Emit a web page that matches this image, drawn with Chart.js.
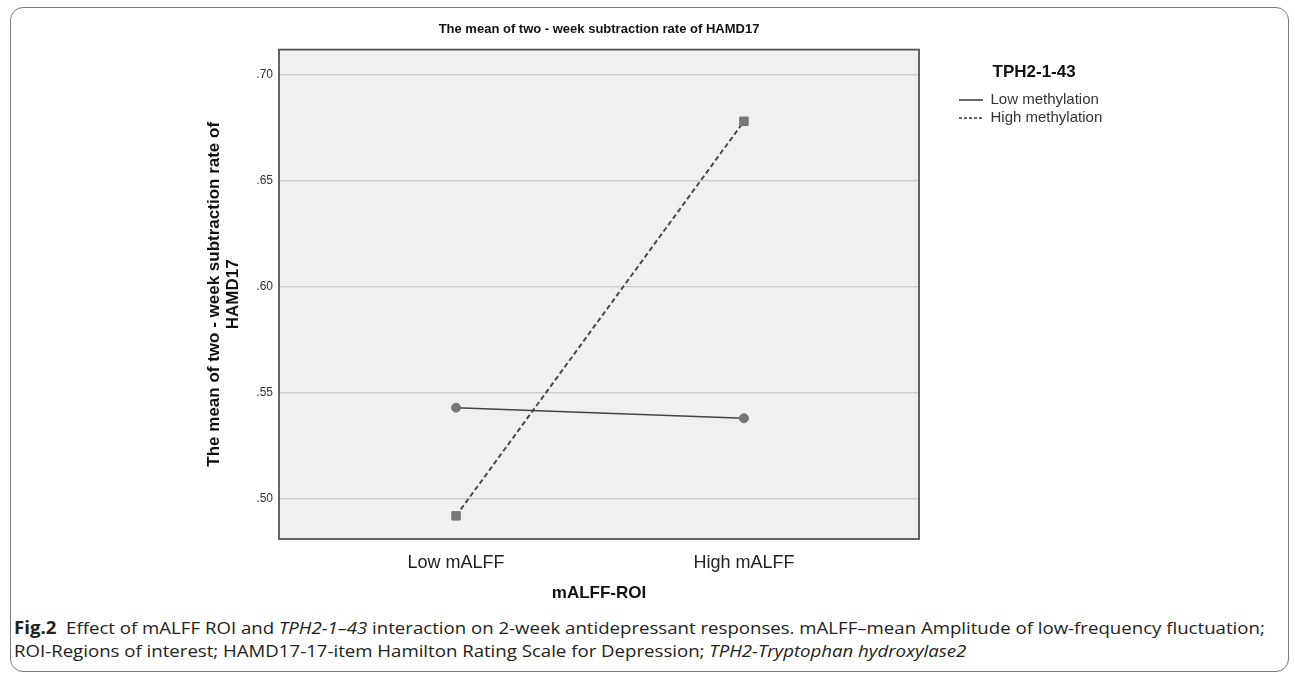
<!DOCTYPE html>
<html>
<head>
<meta charset="utf-8">
<script src="https://cdn.jsdelivr.net/npm/chart.js@4.4.1/dist/chart.umd.min.js"></script>
<style>
  html, body { margin: 0; padding: 0; background: #fff; }
  #page { position: relative; width: 1295px; height: 680px; overflow: hidden; }
  #frame {
    position: absolute; left: 10px; top: 7px; width: 1279px; height: 665px;
    border: 1.5px solid #7a7a7a; border-radius: 13px; box-sizing: border-box;
  }
  #chart { position: absolute; left: 0; top: 0; }
  .cap {
    position: absolute; left: 14px; white-space: nowrap;
    font-family: "Open Sans", sans-serif;
    font-size: 17px; line-height: 17px; color: #222;
    transform-origin: 0 50%;
  }
  .cap b { font-weight: 700; }
  #cap1 { top: 619px; }
  #cap2 { top: 642px; }
</style>
</head>
<body>
<div id="page">
  <div id="frame"></div>
  <canvas id="chart" width="1295" height="610"></canvas>
  <div class="cap" id="cap1"><b>Fig.2</b>&nbsp; Effect of mALFF ROI and <i>TPH2-1–43</i> interaction on 2-week antidepressant responses. mALFF–mean Amplitude of low-frequency fluctuation;</div>
  <div class="cap" id="cap2">ROI-Regions of interest; HAMD17-17-item Hamilton Rating Scale for Depression; <i>TPH2-Tryptophan hydroxylase2</i></div>
</div>
<script>
// values
const categories = ["Low mALFF", "High mALFF"];
const seriesNames = ["Low methylation", "High methylation"];
const lowMethylation = [0.543, 0.538];
const highMethylation = [0.492, 0.678];
const yTicks = [0.50, 0.55, 0.60, 0.65, 0.70];
const yMin = 0.4811;
const yMax = 0.7118;
const xMin = -0.615;
const xMax = 1.608;

Chart.defaults.font.family = '"Liberation Sans", Arial, sans-serif';

function toPoints(values) {
  return values.map(function(v, i) {
    return { x: i, y: v };
  });
}

// grey plot background and dark frame like SPSS
const plotFrame = {
  id: "plotFrame",
  beforeDraw(chart) {
    const a = chart.chartArea;
    const ctx = chart.ctx;
    ctx.save();
    ctx.fillStyle = "#f0f0f0";
    ctx.fillRect(a.left, a.top, a.width, a.height);
    ctx.restore();
  },
  afterDraw(chart) {
    const a = chart.chartArea;
    const ctx = chart.ctx;
    ctx.save();
    ctx.strokeStyle = "#555";
    ctx.lineWidth = 1.8;
    ctx.strokeRect(a.left, a.top, a.width, a.height);
    ctx.restore();
  }
};

const hiddenAxis = {
  type: "linear",
  position: "right",
  ticks: { display: false },
  grid: { display: false },
  border: { display: false }
};

new Chart(document.getElementById("chart"), {
  type: "line",
  data: {
    datasets: [
      {
        label: seriesNames[0],
        data: toPoints(lowMethylation),
        xAxisID: "x",
        yAxisID: "y",
        borderColor: "#444",
        backgroundColor: "rgba(0,0,0,0)",
        borderWidth: 1.5,
        pointStyle: "circle",
        pointRadius: 4.5,
        pointBackgroundColor: "#777",
        pointBorderColor: "#777",
        pointBorderWidth: 1
      },
      {
        label: seriesNames[1],
        data: toPoints(highMethylation),
        xAxisID: "x",
        yAxisID: "y",
        borderColor: "#4a4a4a",
        backgroundColor: "rgba(0,0,0,0)",
        borderWidth: 2,
        borderDash: [5, 3],
        pointStyle: "rect",
        pointRadius: 6,
        pointBackgroundColor: "#777",
        pointBorderColor: "#777",
        pointBorderWidth: 1
      }
    ]
  },
  options: {
    responsive: false,
    animation: false,
    layout: { padding: { left: 0, top: 10, right: 0, bottom: 0 } },
    plugins: {
      tooltip: { enabled: false },
      title: {
        display: true,
        text: "The mean of two - week subtraction rate of HAMD17",
        fullSize: false,
        color: "#111",
        font: { size: 13, weight: "bold" },
        padding: { top: 12, bottom: 12 }
      },
      legend: {
        position: "right",
        align: "start",
        title: {
          display: true,
          text: "TPH2-1-43",
          position: "center",
          color: "#111",
          font: { size: 17, weight: "bold" },
          padding: { top: 53.5, bottom: 5.6 }
        },
        labels: {
          usePointStyle: true,
          pointStyleWidth: 24,
          boxHeight: 15,
          padding: 3,
          color: "#333",
          font: { size: 15 },
          generateLabels: function(chart) {
            const items = Chart.defaults.plugins.legend.labels.generateLabels(chart);
            items.forEach(function(item) {
              item.pointStyle = "line";
              item.strokeStyle = "#333";
              item.lineWidth = 1.3;
              item.lineDash = chart.data.datasets[item.datasetIndex].borderDash ? [3, 2] : [];
            });
            return items;
          }
        }
      }
    },
    scales: {
      x: {
        type: "linear",
        position: "bottom",
        min: xMin,
        max: xMax,
        afterBuildTicks: function(axis) {
          axis.ticks = categories.map(function(c, i) { return { value: i }; });
        },
        afterFit: function(axis) { axis.height = 71; },
        ticks: {
          padding: 5,
          color: "#222",
          font: { size: 18 },
          callback: function(value) { return categories[value]; }
        },
        grid: { display: false },
        border: { display: false },
        title: {
          display: true,
          text: "mALFF-ROI",
          color: "#111",
          font: { size: 17, weight: "bold" },
          padding: { top: 0, bottom: 6 }
        }
      },
      y: {
        type: "linear",
        position: "left",
        min: yMin,
        max: yMax,
        afterBuildTicks: function(axis) {
          axis.ticks = yTicks.map(function(v) { return { value: v }; });
        },
        afterFit: function(axis) { axis.width = 279; },
        ticks: {
          padding: 6,
          color: "#333",
          font: { size: 12 },
          callback: function(value) { return value.toFixed(2).replace(/^0/, ""); }
        },
        grid: { color: "#cfcfcf", lineWidth: 1.5, drawTicks: false },
        border: { display: false },
        title: {
          display: true,
          text: ["The mean of two - week subtraction rate of", "HAMD17"],
          color: "#111",
          font: { size: 17, weight: "bold", lineHeight: 1.12 },
          padding: { top: 204.5, bottom: 0 }
        }
      },
      // spacer between the plot and the legend
      gapR: Object.assign({}, hiddenAxis, {
        weight: 0,
        afterFit: function(axis) { axis.width = 37; }
      }),
      // spacer right of the legend
      padR: Object.assign({}, hiddenAxis, {
        weight: 2000,
        afterFit: function(axis) {
          axis.width = Math.max(0, 1295 - 956 - axis.chart.legend.width);
        }
      })
    }
  },
  plugins: [plotFrame]
});

// stretch caption lines to the width of the printed caption
const cap1 = document.getElementById("cap1");
const cap2 = document.getElementById("cap2");
const scale = 1251 / cap1.scrollWidth;
cap1.style.transform = "scaleX(" + scale + ")";
cap2.style.transform = "scaleX(" + scale + ")";
</script>
</body>
</html>
